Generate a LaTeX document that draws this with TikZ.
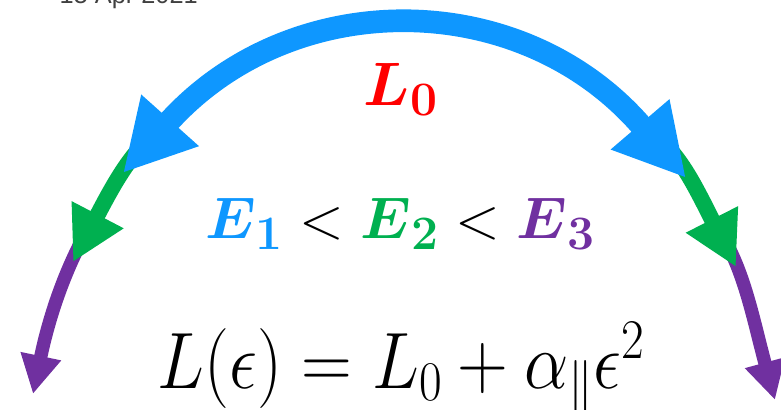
\RequirePackage{fix-cm}
\documentclass[tikz,border=0pt]{standalone}
\usepackage{amsmath}
\usepackage{fontspec}
\usepackage{xcolor}
\definecolor{arcblue}{HTML}{0E97FF}
\definecolor{arcgreen}{HTML}{00B050}
\definecolor{arcpurple}{HTML}{7030A0}
\newfontfamily\datefont{Liberation Sans}
\newcommand{\bsub}[2]{_{\text{\fontsize{#2}{#2}\selectfont\bfseries #1}}}
\usetikzlibrary{arrows.meta}

\begin{document}
\begin{tikzpicture}[
    x=0.75pt, y=-0.75pt,
    blue arc/.style={draw=arcblue, line width=17pt, arrows={Triangle[length=53pt,width=54pt]-Triangle[length=53pt,width=54pt]}},
    green arc/.style={draw=arcgreen, line width=12pt, arrows={-Triangle[length=40pt,width=41pt]}},
    purple arc/.style={draw=arcpurple, line width=10pt, arrows={-Triangle[length=29pt,width=29pt]}}
]
    \useasboundingbox (0,0) rectangle (781,410);

    \node[anchor=base west, text=black!75] (DATE) at (55,4) {\datefont\fontsize{19}{19}\selectfont 15 Apr 2021};

    \coordinate (B1) at (123,173);
    \coordinate (B2) at (686,178);
    \coordinate (G1s) at (140,148);
    \coordinate (G1) at (73,262);
    \coordinate (G2s) at (672,152);
    \coordinate (G2) at (736,267);
    \coordinate (P1s) at (82,240);
    \coordinate (P1) at (33,394);
    \coordinate (P2s) at (728,246);
    \coordinate (P2) at (775,400);

    \draw[purple arc] (P1s) .. controls +(-18.5,35.5) and +(16,-77) .. (P1);
    \draw[purple arc] (P2s) .. controls +(18.5,35.5) and +(-20,-73.6) .. (P2);
    \draw[green arc] (G1s) .. controls +(-17,19) and +(36.5,-70) .. (G1);
    \draw[green arc] (G2s) .. controls +(16,19) and +(-36,-71) .. (G2);
    \draw[blue arc] (B1) .. controls +(168.5,-188.4) and +(-163.5,-191) .. (B2);

    \node[anchor=base, text=red] (L0) at (401,105) {\fontsize{46}{46}\selectfont$\boldsymbol{L}\bsub{0}{36}$};
    \node[anchor=base] (E) at (400,238) {\fontsize{44}{44}\selectfont$%
        {\color{arcblue}\boldsymbol{E}\bsub{1}{36}} <
        {\color{arcgreen}\boldsymbol{E}\bsub{2}{36}} <
        {\color{arcpurple}\boldsymbol{E}\bsub{3}{36}}$};
    \node[anchor=base, xscale=0.88] (EQ) at (401,388) {\fontsize{60}{60}\selectfont$L(\epsilon) = L_0 + \alpha_{\parallel}\epsilon^2$};
\end{tikzpicture}
\end{document}
